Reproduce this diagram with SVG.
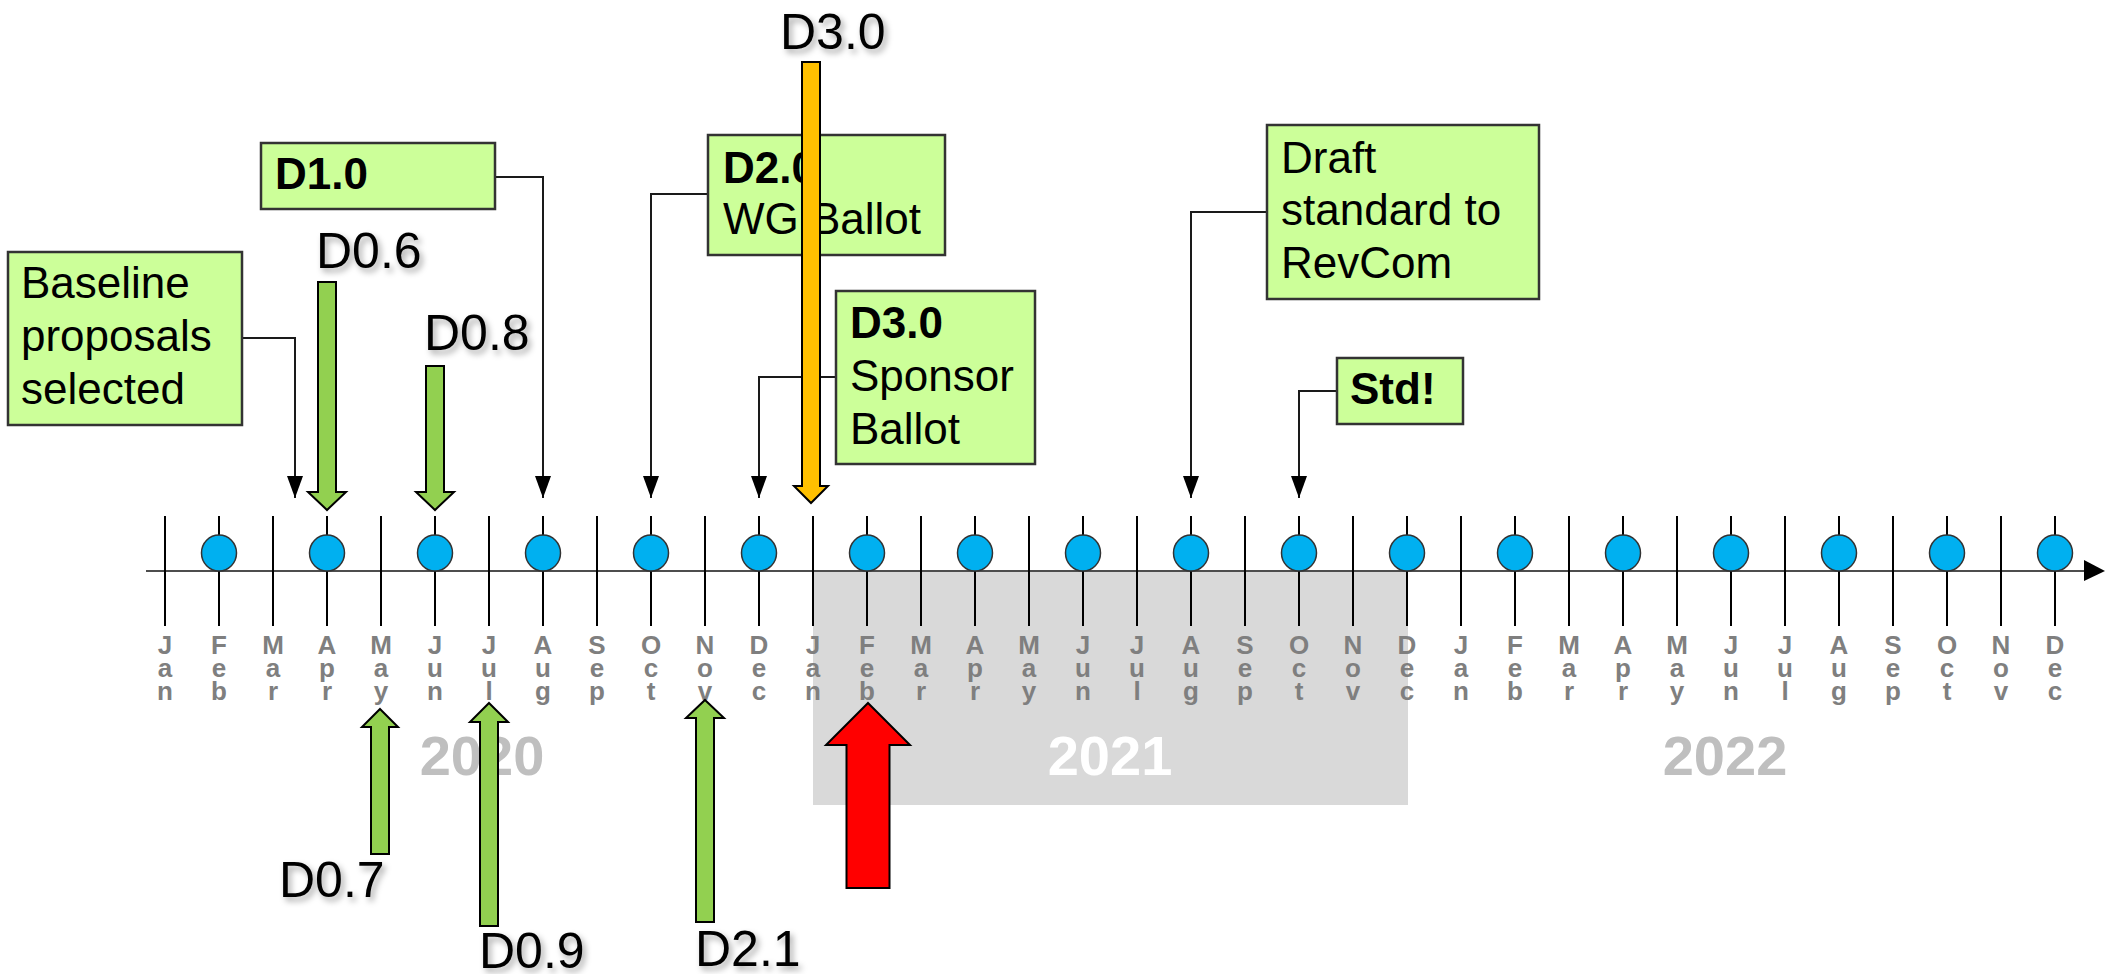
<svg xmlns="http://www.w3.org/2000/svg" width="2105" height="974" viewBox="0 0 2105 974">
<defs>
<style>
.box{fill:#ccff99;stroke:#333;stroke-width:2.5}
.ct{font-family:"Liberation Sans",Arial,sans-serif;font-size:44px;fill:#000}
.b{font-weight:bold}
.dl{font-family:"Liberation Sans",Arial,sans-serif;font-size:50px;fill:#000;filter:url(#sh)}
.yr{font-family:"Liberation Sans",Arial,sans-serif;font-size:56px;font-weight:bold;text-anchor:middle}
.mo{font-family:"Liberation Sans",Arial,sans-serif;font-size:26px;font-weight:bold;fill:#7f7f7f;text-anchor:middle}
.tick{stroke:#000;stroke-width:2;fill:none}
.dot{fill:#00b0f0;stroke:#333;stroke-width:1.5}
.con{stroke:#1a1a1a;stroke-width:2;fill:none;marker-end:url(#ah)}
.ga{fill:#92d050;stroke:#000;stroke-width:2}
</style>
<marker id="ah" viewBox="0 0 22 16" refX="22" refY="8" markerUnits="userSpaceOnUse" markerWidth="22" markerHeight="16" orient="auto">
<path d="M0,0 L22,8 L0,16 Z" fill="#000"/>
</marker>
<filter id="sh" x="-20%" y="-20%" width="150%" height="160%">
<feDropShadow dx="3" dy="4" stdDeviation="3" flood-color="#000" flood-opacity="0.35"/>
</filter>
</defs>
<rect width="2105" height="974" fill="#fff"/>
<g id="year-band-2021"><rect x="813" y="571" width="595" height="234" fill="#d9d9d9"/></g>
<g id="years">
<text class="yr" x="482" y="775" fill="#bfbfbf">2020</text>
<text class="yr" x="1110" y="775" fill="#fff">2021</text>
<text class="yr" x="1725" y="775" fill="#bfbfbf">2022</text>
</g>
<g id="axis">
<line x1="146" y1="571" x2="2086" y2="571" stroke="#4d4d4d" stroke-width="2"/>
<path d="M2084,560 L2105,571 L2084,581 Z" fill="#000"/>
<path class="tick" d="M165,516V626M219,516V626M273,516V626M327,516V626M381,516V626M435,516V626M489,516V626M543,516V626M597,516V626M651,516V626M705,516V626M759,516V626M813,516V626M867,516V626M921,516V626M975,516V626M1029,516V626M1083,516V626M1137,516V626M1191,516V626M1245,516V626M1299,516V626M1353,516V626M1407,516V626M1461,516V626M1515,516V626M1569,516V626M1623,516V626M1677,516V626M1731,516V626M1785,516V626M1839,516V626M1893,516V626M1947,516V626M2001,516V626M2055,516V626"/>
</g>
<g id="dots">
<ellipse class="dot" cx="219" cy="553" rx="17.5" ry="18"/>
<ellipse class="dot" cx="327" cy="553" rx="17.5" ry="18"/>
<ellipse class="dot" cx="435" cy="553" rx="17.5" ry="18"/>
<ellipse class="dot" cx="543" cy="553" rx="17.5" ry="18"/>
<ellipse class="dot" cx="651" cy="553" rx="17.5" ry="18"/>
<ellipse class="dot" cx="759" cy="553" rx="17.5" ry="18"/>
<ellipse class="dot" cx="867" cy="553" rx="17.5" ry="18"/>
<ellipse class="dot" cx="975" cy="553" rx="17.5" ry="18"/>
<ellipse class="dot" cx="1083" cy="553" rx="17.5" ry="18"/>
<ellipse class="dot" cx="1191" cy="553" rx="17.5" ry="18"/>
<ellipse class="dot" cx="1299" cy="553" rx="17.5" ry="18"/>
<ellipse class="dot" cx="1407" cy="553" rx="17.5" ry="18"/>
<ellipse class="dot" cx="1515" cy="553" rx="17.5" ry="18"/>
<ellipse class="dot" cx="1623" cy="553" rx="17.5" ry="18"/>
<ellipse class="dot" cx="1731" cy="553" rx="17.5" ry="18"/>
<ellipse class="dot" cx="1839" cy="553" rx="17.5" ry="18"/>
<ellipse class="dot" cx="1947" cy="553" rx="17.5" ry="18"/>
<ellipse class="dot" cx="2055" cy="553" rx="17.5" ry="18"/>
</g>
<g id="months">
<text class="mo"><tspan x="165" y="654">J</tspan><tspan x="165" y="677">a</tspan><tspan x="165" y="700">n</tspan></text>
<text class="mo"><tspan x="219" y="654">F</tspan><tspan x="219" y="677">e</tspan><tspan x="219" y="700">b</tspan></text>
<text class="mo"><tspan x="273" y="654">M</tspan><tspan x="273" y="677">a</tspan><tspan x="273" y="700">r</tspan></text>
<text class="mo"><tspan x="327" y="654">A</tspan><tspan x="327" y="677">p</tspan><tspan x="327" y="700">r</tspan></text>
<text class="mo"><tspan x="381" y="654">M</tspan><tspan x="381" y="677">a</tspan><tspan x="381" y="700">y</tspan></text>
<text class="mo"><tspan x="435" y="654">J</tspan><tspan x="435" y="677">u</tspan><tspan x="435" y="700">n</tspan></text>
<text class="mo"><tspan x="489" y="654">J</tspan><tspan x="489" y="677">u</tspan><tspan x="489" y="700">l</tspan></text>
<text class="mo"><tspan x="543" y="654">A</tspan><tspan x="543" y="677">u</tspan><tspan x="543" y="700">g</tspan></text>
<text class="mo"><tspan x="597" y="654">S</tspan><tspan x="597" y="677">e</tspan><tspan x="597" y="700">p</tspan></text>
<text class="mo"><tspan x="651" y="654">O</tspan><tspan x="651" y="677">c</tspan><tspan x="651" y="700">t</tspan></text>
<text class="mo"><tspan x="705" y="654">N</tspan><tspan x="705" y="677">o</tspan><tspan x="705" y="700">v</tspan></text>
<text class="mo"><tspan x="759" y="654">D</tspan><tspan x="759" y="677">e</tspan><tspan x="759" y="700">c</tspan></text>
<text class="mo"><tspan x="813" y="654">J</tspan><tspan x="813" y="677">a</tspan><tspan x="813" y="700">n</tspan></text>
<text class="mo"><tspan x="867" y="654">F</tspan><tspan x="867" y="677">e</tspan><tspan x="867" y="700">b</tspan></text>
<text class="mo"><tspan x="921" y="654">M</tspan><tspan x="921" y="677">a</tspan><tspan x="921" y="700">r</tspan></text>
<text class="mo"><tspan x="975" y="654">A</tspan><tspan x="975" y="677">p</tspan><tspan x="975" y="700">r</tspan></text>
<text class="mo"><tspan x="1029" y="654">M</tspan><tspan x="1029" y="677">a</tspan><tspan x="1029" y="700">y</tspan></text>
<text class="mo"><tspan x="1083" y="654">J</tspan><tspan x="1083" y="677">u</tspan><tspan x="1083" y="700">n</tspan></text>
<text class="mo"><tspan x="1137" y="654">J</tspan><tspan x="1137" y="677">u</tspan><tspan x="1137" y="700">l</tspan></text>
<text class="mo"><tspan x="1191" y="654">A</tspan><tspan x="1191" y="677">u</tspan><tspan x="1191" y="700">g</tspan></text>
<text class="mo"><tspan x="1245" y="654">S</tspan><tspan x="1245" y="677">e</tspan><tspan x="1245" y="700">p</tspan></text>
<text class="mo"><tspan x="1299" y="654">O</tspan><tspan x="1299" y="677">c</tspan><tspan x="1299" y="700">t</tspan></text>
<text class="mo"><tspan x="1353" y="654">N</tspan><tspan x="1353" y="677">o</tspan><tspan x="1353" y="700">v</tspan></text>
<text class="mo"><tspan x="1407" y="654">D</tspan><tspan x="1407" y="677">e</tspan><tspan x="1407" y="700">c</tspan></text>
<text class="mo"><tspan x="1461" y="654">J</tspan><tspan x="1461" y="677">a</tspan><tspan x="1461" y="700">n</tspan></text>
<text class="mo"><tspan x="1515" y="654">F</tspan><tspan x="1515" y="677">e</tspan><tspan x="1515" y="700">b</tspan></text>
<text class="mo"><tspan x="1569" y="654">M</tspan><tspan x="1569" y="677">a</tspan><tspan x="1569" y="700">r</tspan></text>
<text class="mo"><tspan x="1623" y="654">A</tspan><tspan x="1623" y="677">p</tspan><tspan x="1623" y="700">r</tspan></text>
<text class="mo"><tspan x="1677" y="654">M</tspan><tspan x="1677" y="677">a</tspan><tspan x="1677" y="700">y</tspan></text>
<text class="mo"><tspan x="1731" y="654">J</tspan><tspan x="1731" y="677">u</tspan><tspan x="1731" y="700">n</tspan></text>
<text class="mo"><tspan x="1785" y="654">J</tspan><tspan x="1785" y="677">u</tspan><tspan x="1785" y="700">l</tspan></text>
<text class="mo"><tspan x="1839" y="654">A</tspan><tspan x="1839" y="677">u</tspan><tspan x="1839" y="700">g</tspan></text>
<text class="mo"><tspan x="1893" y="654">S</tspan><tspan x="1893" y="677">e</tspan><tspan x="1893" y="700">p</tspan></text>
<text class="mo"><tspan x="1947" y="654">O</tspan><tspan x="1947" y="677">c</tspan><tspan x="1947" y="700">t</tspan></text>
<text class="mo"><tspan x="2001" y="654">N</tspan><tspan x="2001" y="677">o</tspan><tspan x="2001" y="700">v</tspan></text>
<text class="mo"><tspan x="2055" y="654">D</tspan><tspan x="2055" y="677">e</tspan><tspan x="2055" y="700">c</tspan></text>
</g>
<g id="connectors">
<path class="con" d="M242,338 H295 V498"/>
<path class="con" d="M495,177 H543 V498"/>
<path class="con" d="M708,194 H651 V498"/>
<path class="con" d="M836,377 H759 V498"/>
<path class="con" d="M1267,212 H1191 V498"/>
<path class="con" d="M1337,391 H1299 V498"/>
</g>
<g id="node-baseline">
<rect class="box" x="8" y="252" width="234" height="173"/>
<text class="ct"><tspan x="21" y="298">Baseline</tspan><tspan x="21" y="351">proposals</tspan><tspan x="21" y="404">selected</tspan></text>
</g>
<g id="node-d10">
<rect class="box" x="261" y="143" width="234" height="66"/>
<text class="ct b" x="275" y="189">D1.0</text>
</g>
<g id="node-d20">
<rect class="box" x="708" y="135" width="237" height="120"/>
<text class="ct"><tspan class="b" x="723" y="183">D2.0</tspan><tspan x="723" y="234">WG Ballot</tspan></text>
</g>
<g id="node-d30-sponsor">
<rect class="box" x="836" y="291" width="199" height="173"/>
<text class="ct"><tspan class="b" x="850" y="338">D3.0</tspan><tspan x="850" y="391">Sponsor</tspan><tspan x="850" y="444">Ballot</tspan></text>
</g>
<g id="node-draft">
<rect class="box" x="1267" y="125" width="272" height="174"/>
<text class="ct"><tspan x="1281" y="173">Draft</tspan><tspan x="1281" y="225">standard to</tspan><tspan x="1281" y="278">RevCom</tspan></text>
</g>
<g id="node-std">
<rect class="box" x="1337" y="358" width="126" height="66"/>
<text class="ct b" x="1350" y="404">Std!</text>
</g>
<g id="draft-labels">
<text class="dl" x="316" y="268">D0.6</text>
<text class="dl" x="424" y="350">D0.8</text>
<text class="dl" x="780" y="49">D3.0</text>
<text class="dl" x="279" y="897">D0.7</text>
<text class="dl" x="479" y="968">D0.9</text>
<text class="dl" x="695" y="966">D2.1</text>
</g>
<g id="draft-arrows">
<polygon class="ga" points="318,282 336,282 336,492 346,492 327,510 308,492 318,492"/>
<polygon class="ga" points="426,366 444,366 444,492 454,492 435,510 416,492 426,492"/>
<polygon class="ga" points="380,709 398,727 389,727 389,854 371,854 371,727 362,727"/>
<polygon class="ga" points="489,703 508,722 498,722 498,926 480,926 480,722 470,722"/>
<polygon class="ga" points="705,700 724,718 714,718 714,922 696,922 696,718 686,718"/>
<polygon points="802,62 820,62 820,486 828,486 811,503 794,486 802,486" fill="#ffc000" stroke="#000" stroke-width="2"/>
<polygon points="868,703 910,745 889.5,745 889.5,888 846.5,888 846.5,745 826,745" fill="#ff0000" stroke="#000" stroke-width="2"/>
</g>
</svg>
